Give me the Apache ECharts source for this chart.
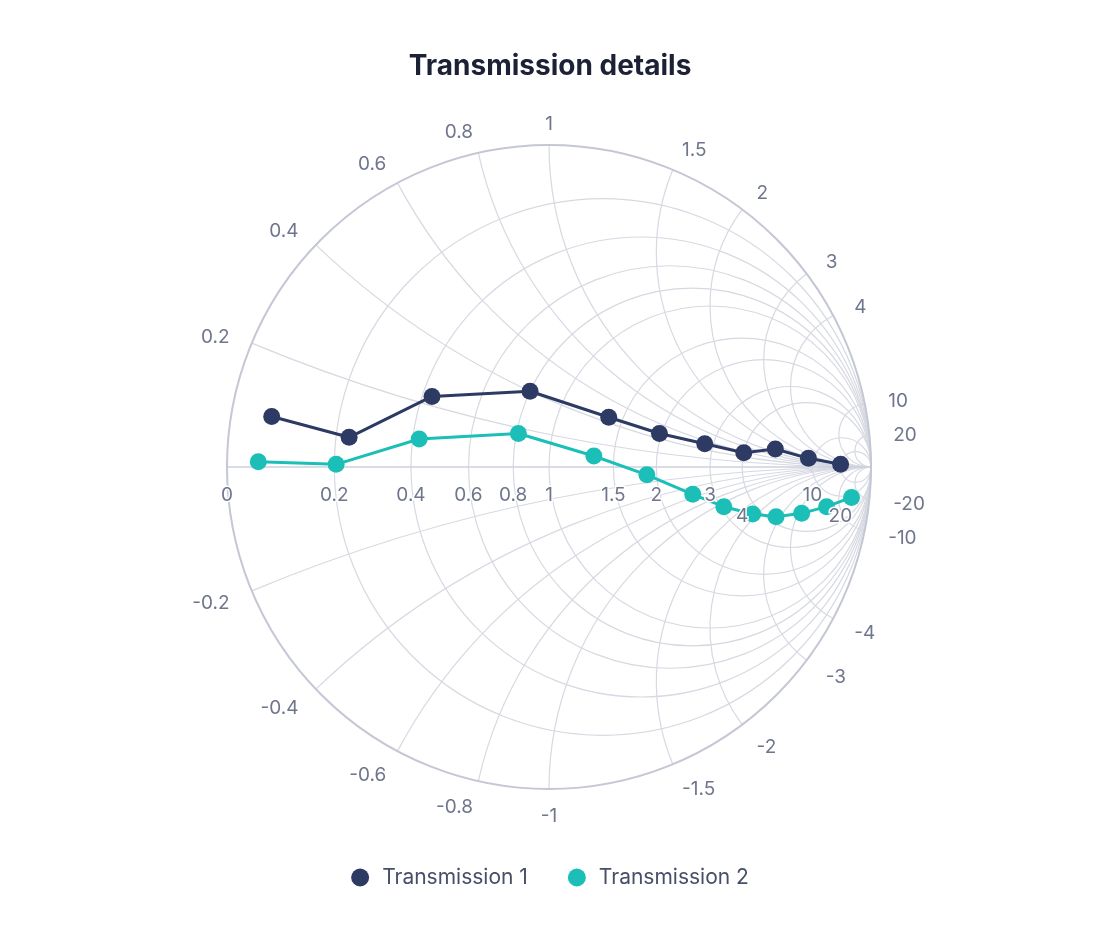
<!DOCTYPE html>
<html>
<head>
<meta charset="utf-8">
<script src="https://cdn.jsdelivr.net/npm/echarts@6/dist/echarts.min.js"></script>
<style>
html,body{margin:0;padding:0;background:#ffffff;}
#chart{width:1100px;height:928px;}
</style>
</head>
<body>
<div id="chart"></div>
<script>
// ---- data (normalized impedance z = real + j*imag) ----
const chartTitle = 'Transmission details';
const seriesNames = ['Transmission 1', 'Transmission 2'];
const t1Real = [0.067, 0.23, 0.43, 0.80, 1.37, 1.97, 2.8, 4.0, 5.5, 9.1, 20];
const t1Imag = [0.09, 0.07, 0.23, 0.40, 0.45, 0.47, 0.53, 0.56, 1.22, 1.40, 1.9];
const t2Real = [0.051, 0.204, 0.42, 0.81, 1.32, 1.87, 2.53, 3.08, 3.70, 4.32, 5.42, 7.07, 8.6];
const t2Imag = [0.009, 0.006, 0.088, 0.172, 0.092, -0.10, -0.54, -1.10, -1.87, -2.79, -4.29, -7.2, -15];
// ---- grid / tick values ----
const realTicks = [0.2, 0.4, 0.6, 0.8, 1, 1.5, 2, 3, 4, 10, 20];
const imagTicks = [0.2, 0.4, 0.6, 0.8, 1, 1.5, 2, 3, 4, 10, 20];
const realTickLabels = ['0', '0.2', '0.4', '0.6', '0.8', '1', '1.5', '2', '3', '4', '10', '20'];
const realTickLabelValues = [0, 0.2, 0.4, 0.6, 0.8, 1, 1.5, 2, 3, 4, 10, 20];
const imagTickLabels = ['0.2', '0.4', '0.6', '0.8', '1', '1.5', '2', '3', '4', '10', '20',
  '-0.2', '-0.4', '-0.6', '-0.8', '-1', '-1.5', '-2', '-3', '-4', '-10', '-20'];
const imagTickLabelValues = [0.2, 0.4, 0.6, 0.8, 1, 1.5, 2, 3, 4, 10, 20,
  -0.2, -0.4, -0.6, -0.8, -1, -1.5, -2, -3, -4, -10, -20];
const loweredRealLabels = ['4', '20'];

// ---- styling ----
const navy = '#2c3a64';
const teal = '#1bbfb7';
const gridColor = '#d7d9e2';
const rimColor = '#c4c7d4';
const labelColor = '#6f768c';
const fontFamily = 'Inter, "Noto Sans", sans-serif';

function toGamma(r, x) {
  const d = (r + 1) * (r + 1) + x * x;
  return [(r * r + x * x - 1) / d, 2 * x / d];
}

function renderResistance(params, api) {
  const r = api.value(0);
  const c = api.coord([r / (1 + r), 0]);
  const rp = api.size([1 / (1 + r), 0])[0];
  return {
    type: 'circle',
    shape: { cx: c[0], cy: c[1], r: rp },
    style: { fill: null, stroke: gridColor, lineWidth: 1.2 }
  };
}

function renderReactance(params, api) {
  const x = api.value(0);
  const c = api.coord([1, 1 / x]);
  const rp = api.size([1 / Math.abs(x), 0])[0];
  const g = [(x * x - 1) / (x * x + 1), 2 * x / (x * x + 1)];
  const b = api.coord(g);
  let tb = Math.atan2(b[1] - c[1], b[0] - c[0]);
  let start, end;
  if (x > 0) {
    if (tb < 0) tb += 2 * Math.PI;
    start = Math.PI / 2; end = tb;
  } else {
    if (tb > 0) tb -= 2 * Math.PI;
    start = tb; end = -Math.PI / 2;
  }
  return {
    type: 'arc',
    shape: { cx: c[0], cy: c[1], r: rp, startAngle: start, endAngle: end, clockwise: true },
    style: { fill: null, stroke: gridColor, lineWidth: 1.2 }
  };
}

function renderFrame(params, api) {
  const c = api.coord([0, 0]);
  const rp = api.size([1, 0])[0];
  const l = api.coord([-1, 0]);
  const rr = api.coord([1, 0]);
  return {
    type: 'group',
    children: [
      { type: 'line', shape: { x1: l[0], y1: l[1], x2: rr[0], y2: rr[1] },
        style: { stroke: '#cdd0db', lineWidth: 1.6 } },
      { type: 'circle', shape: { cx: c[0], cy: c[1], r: rp },
        style: { fill: null, stroke: rimColor, lineWidth: 2 } }
    ]
  };
}

function renderImagLabel(params, api) {
  const x = api.value(0);
  const idx = params.dataIndex;
  const g = [(x * x - 1) / (x * x + 1), 2 * x / (x * x + 1)];
  const c = api.coord([0, 0]);
  const rp = api.size([1, 0])[0] + 24;
  const px = c[0] + g[0] * rp;
  const py = c[1] - g[1] * rp + 3;
  const align = g[0] > 0.15 ? 'left' : (g[0] < -0.15 ? 'right' : 'center');
  return {
    type: 'text', x: px, y: py,
    style: { text: imagTickLabels[idx], fill: labelColor, fontSize: 19, fontFamily: fontFamily,
             align: align, verticalAlign: 'middle' }
  };
}

function renderRealLabel(params, api) {
  const r = api.value(0);
  const idx = params.dataIndex;
  const txt = realTickLabels[idx];
  const p = api.coord([(r - 1) / (r + 1), 0]);
  const dy = loweredRealLabels.indexOf(txt) >= 0 ? 49 : 28;
  return {
    type: 'text', x: p[0], y: p[1] + dy,
    style: { text: txt, fill: labelColor, fontSize: 19, fontFamily: fontFamily,
             align: 'center', verticalAlign: 'middle',
             stroke: '#ffffff', lineWidth: 3 }
  };
}

const chart = echarts.init(document.getElementById('chart'), null, { renderer: 'canvas' });
chart.setOption({
  animation: false,
  backgroundColor: '#ffffff',
  title: {
    text: chartTitle, left: 'center', top: 48,
    textStyle: { fontSize: 28, fontWeight: 'bold', color: '#1c2136', fontFamily: fontFamily }
  },
  legend: {
    data: seriesNames, left: 'center', top: 862, icon: 'circle',
    itemWidth: 18, itemHeight: 18, itemGap: 40,
    textStyle: { fontSize: 21, color: '#474e68', fontFamily: fontFamily, padding: [0, 0, 0, 8] }
  },
  grid: { left: 227, top: 145, width: 644, height: 644, containLabel: false },
  xAxis: { type: 'value', min: -1, max: 1, show: false },
  yAxis: { type: 'value', min: -1, max: 1, show: false },
  series: [
    { type: 'custom', name: 'resistance-grid', silent: true, z: 1,
      data: realTicks.map(v => [v, 0]), renderItem: renderResistance },
    { type: 'custom', name: 'reactance-grid', silent: true, z: 1,
      data: imagTicks.concat(imagTicks.map(v => -v)).map(v => [v, 0]), renderItem: renderReactance },
    { type: 'custom', name: 'frame', silent: true, z: 2,
      data: [[0, 0]], renderItem: renderFrame },
    { type: 'line', name: seriesNames[0], z: 5,
      data: t1Real.map((r, i) => toGamma(r, t1Imag[i])),
      symbol: 'circle', symbolSize: 17, showAllSymbol: true,
      lineStyle: { width: 3, color: navy }, itemStyle: { color: navy } },
    { type: 'line', name: seriesNames[1], z: 5,
      data: t2Real.map((r, i) => toGamma(r, t2Imag[i])),
      symbol: 'circle', symbolSize: 17, showAllSymbol: true,
      lineStyle: { width: 3, color: teal }, itemStyle: { color: teal } },
    { type: 'custom', name: 'imag-labels', silent: true, z: 10,
      data: imagTickLabelValues.map(v => [v, 0]), renderItem: renderImagLabel },
    { type: 'custom', name: 'real-labels', silent: true, z: 10,
      data: realTickLabelValues.map(v => [v, 0]), renderItem: renderRealLabel }
  ]
});
</script>
</body>
</html>
